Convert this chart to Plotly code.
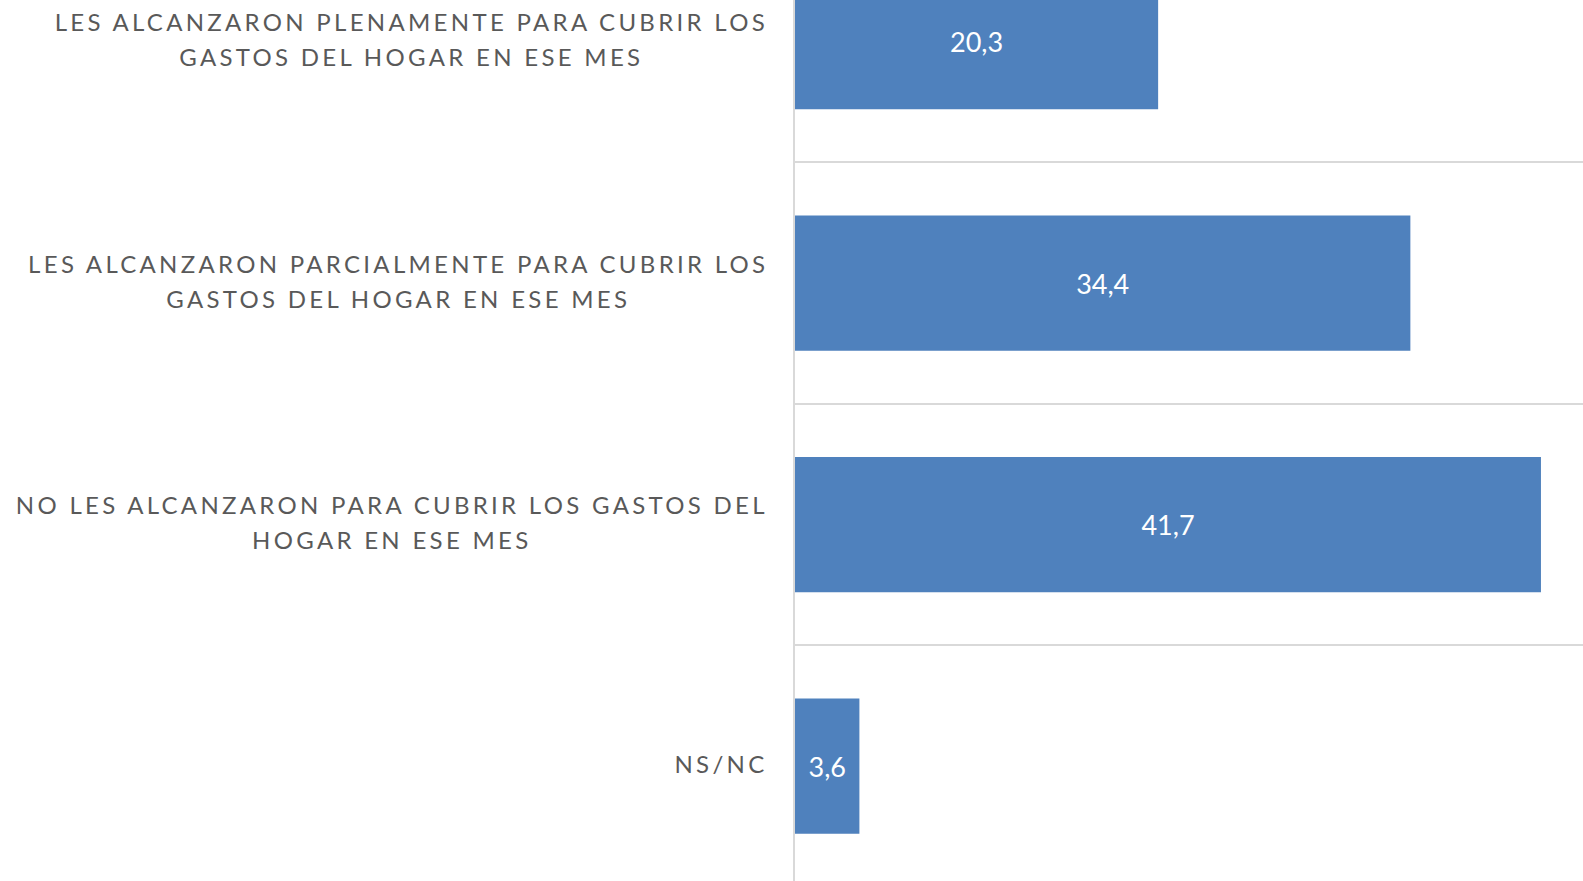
import plotly.graph_objects as go

categories = [
    "LES ALCANZARON PLENAMENTE PARA CUBRIR LOS<br>GASTOS DEL HOGAR EN ESE MES",
    "LES ALCANZARON PARCIALMENTE PARA CUBRIR LOS<br>GASTOS DEL HOGAR EN ESE MES",
    "NO LES ALCANZARON PARA CUBRIR LOS GASTOS DEL<br>HOGAR EN ESE MES",
    "NS/NC",
]
values = [20.3, 34.4, 41.7, 3.6]

BAR_COLOR = "#4f81bd"
LABEL_COLOR = "#595959"
GRID_COLOR = "#d9d9d9"
FONT = "Lato, 'Open Sans', sans-serif"

fig = go.Figure(
    go.Bar(
        x=values,
        y=categories,
        orientation="h",
        marker=dict(color=BAR_COLOR, line=dict(width=0)),
        width=0.56,
        texttemplate="%{x:.1f}",
        textposition="inside",
        insidetextanchor="middle",
        textfont=dict(family=FONT, size=27, color="white"),
        constraintext="none",
        hoverinfo="skip",
    )
)

annotations = [
    dict(
        text=c,
        x=0,
        xref="paper",
        xanchor="right",
        xshift=-25,
        y=c,
        yref="y",
        yanchor="middle",
        yshift=2.5,
        align="center",
        showarrow=False,
        font=dict(family=FONT, size=24, color=LABEL_COLOR),
    )
    for c in categories
]

fig.update_layout(
    width=1583,
    height=881,
    margin=dict(l=795, r=0, t=0, b=0),
    paper_bgcolor="white",
    plot_bgcolor="white",
    separators=", ",
    showlegend=False,
    annotations=annotations,
    xaxis=dict(
        range=[0, 44.05],
        showgrid=False,
        zeroline=False,
        showline=False,
        showticklabels=False,
        ticks="",
        fixedrange=True,
    ),
    yaxis=dict(
        type="category",
        categoryorder="array",
        categoryarray=categories,
        range=[3.476, -0.172],
        tickson="boundaries",
        showgrid=True,
        gridcolor=GRID_COLOR,
        gridwidth=2,
        showline=True,
        linecolor=GRID_COLOR,
        linewidth=2,
        showticklabels=False,
        ticks="",
        zeroline=False,
        fixedrange=True,
    ),
)

post = """
document.body.style.margin = '0';
document.body.style.overflow = 'hidden';
var gd = document.getElementById('{plot_id}');
function spaceLabels(){
  gd.querySelectorAll('.annotation-text').forEach(function(t){
    if (t.dataset.ls) return;
    var b0 = t.getBBox();
    var r0 = b0.x + b0.width;
    var c0 = b0.y + b0.height / 2;
    t.style.letterSpacing = '3.3px';
    t.querySelectorAll('tspan.line').forEach(function(s){
      var dy = s.getAttribute('dy');
      if (dy && dy.indexOf('em') > 0) {
        var v = parseFloat(dy);
        s.setAttribute('dy', (v / 1.3 * 1.47) + 'em');
      }
    });
    var b1 = t.getBBox();
    var r1 = b1.x + b1.width;
    var c1 = b1.y + b1.height / 2;
    var old = t.getAttribute('transform') || '';
    t.setAttribute('transform', old + ' translate(' + (r0 - r1) + ',' + (c0 - c1) + ')');
    t.dataset.ls = '1';
  });
}
spaceLabels();
gd.on('plotly_afterplot', function(){ spaceLabels(); });
"""

fig.write_html("out.html", post_script=post, config={"displayModeBar": False})
